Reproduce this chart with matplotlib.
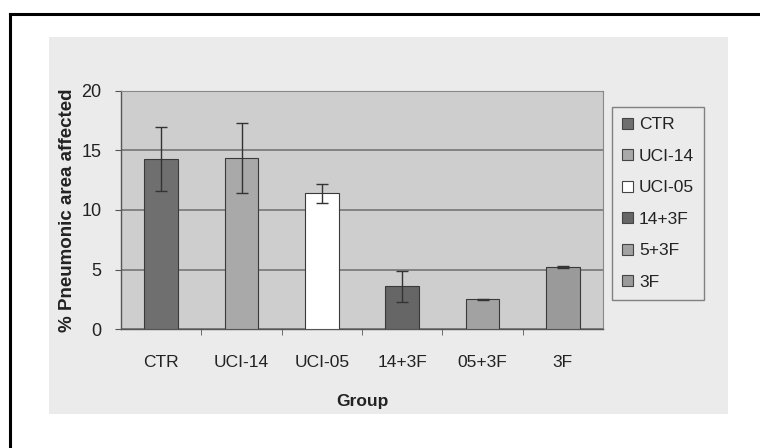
import matplotlib
matplotlib.use("Agg")
import matplotlib.pyplot as plt
from matplotlib.patches import Rectangle, Patch

plt.rcParams['font.family'] = ['Liberation Sans', 'DejaVu Sans']

# data
groups = ['CTR', 'UCI-14', 'UCI-05', '14+3F', '05+3F', '3F']
legend_labels = ['CTR', 'UCI-14', 'UCI-05', '14+3F', '5+3F', '3F']
values = [14.3, 14.4, 11.4, 3.6, 2.5, 5.2]
errors = [2.7, 2.95, 0.8, 1.3, 0.05, 0.1]
yticks = [0, 5, 10, 15, 20]

bar_colors = ['#6f6f6f', '#a9a9a9', '#ffffff', '#666666', '#a2a2a2', '#9a9a9a']

W, H = 760, 448
fig = plt.figure(figsize=(W / 100, H / 100), dpi=100)
fig.patch.set_facecolor('white')

# black frame (only left / top visible in the crop)
fig.add_artist(plt.Line2D([10 / W, 10 / W], [0, 1 - 14 / H], color='black', lw=2.2,
                          transform=fig.transFigure))
fig.add_artist(plt.Line2D([10 / W, 1], [1 - 14 / H, 1 - 14 / H], color='black', lw=2.2,
                          transform=fig.transFigure))

# light gray chart panel
fig.add_artist(Rectangle((49 / W, 1 - 414 / H), (728 - 49) / W, (414 - 37) / H,
                         transform=fig.transFigure, facecolor='#ebebeb',
                         edgecolor='none', zorder=0))

ax = fig.add_axes([121 / W, 1 - 329 / H, (603 - 121) / W, (329 - 91) / H])
ax.set_facecolor('#cecece')

x = range(len(groups))
ax.bar(x, values, width=0.42, color=bar_colors, edgecolor='#3a3a3a', linewidth=0.8,
       yerr=errors, capsize=4.3, error_kw=dict(ecolor='#333333', elinewidth=1, capthick=1),
       zorder=3)

ax.set_xlim(-0.5, len(groups) - 0.5)
ax.set_ylim(0, 20)
ax.set_yticks(yticks)
ax.set_yticklabels([str(t) for t in yticks], fontsize=13, color='#222222')
ax.yaxis.grid(True, color='#6e6e6e', linewidth=1.1, zorder=1)
ax.set_axisbelow(True)

ax.set_xticks([i for i in x])
ax.set_xticklabels(groups, fontsize=12.5, color='#222222')
ax.tick_params(axis='x', length=0, pad=19)
ax.set_xticks([i + 0.5 for i in range(len(groups) - 1)], minor=True)
ax.tick_params(axis='x', which='minor', length=4, color='#555555')
ax.tick_params(axis='y', length=4, color='#555555', pad=10)

for side in ['top', 'right']:
    ax.spines[side].set_color('#888888')
    ax.spines[side].set_linewidth(0.8)
for side in ['left', 'bottom']:
    ax.spines[side].set_color('#555555')
    ax.spines[side].set_linewidth(1.0)

ax.set_ylabel('% Pneumonic area affected', fontsize=13.5, fontweight='bold',
              color='#222222', labelpad=4)
ax.set_xlabel('Group', fontsize=12.5, fontweight='bold', color='#222222', labelpad=17)

handles = [Patch(facecolor=c, edgecolor='#444444', linewidth=0.8) for c in bar_colors]
leg = fig.legend(handles, legend_labels, loc='upper left',
                 bbox_to_anchor=(612 / W, 1 - 107 / H), fontsize=12.5,
                 frameon=True, fancybox=False, handlelength=0.6, handleheight=0.6,
                 handletextpad=0.35, labelspacing=0.95, borderpad=0.6,
                 borderaxespad=0)
leg.get_frame().set_facecolor('#ebebeb')
leg.get_frame().set_edgecolor('#666666')
leg.get_frame().set_linewidth(1.0)
for t in leg.get_texts():
    t.set_color('#222222')

fig.savefig('out.png', dpi=100)
